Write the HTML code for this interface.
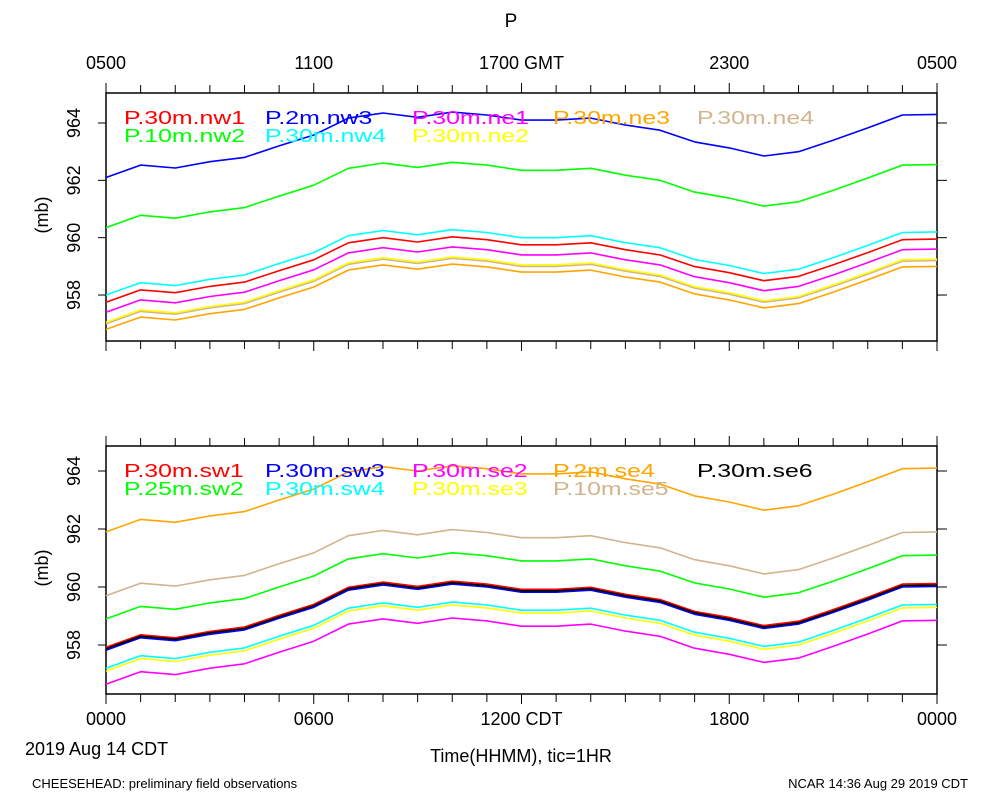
<!DOCTYPE html>
<html><head><meta charset="utf-8"><style>
html,body{margin:0;padding:0;background:#fff;}
svg{display:block;font-family:"Liberation Sans",sans-serif;}
</style></head><body>
<svg id="chart" width="1000" height="800" viewBox="0 0 1000 800" xmlns="http://www.w3.org/2000/svg">
<rect x="0" y="0" width="1000" height="800" fill="#fff"/>
<text x="511" y="27" font-size="19" text-anchor="middle">P</text>
<g id="top-axis-labels" font-size="18" text-anchor="middle"></g>
<g id="panel-top"></g>
<g id="panel-bot"></g>
<g id="bottom-axis-labels" font-size="18" text-anchor="middle"></g>
<text x="25" y="755" font-size="18">2019 Aug 14 CDT</text>
<text x="521" y="762" font-size="18" text-anchor="middle">Time(HHMM), tic=1HR</text>
<text x="32" y="788" font-size="13">CHEESEHEAD: preliminary field observations</text>
<text x="968" y="788" font-size="13" text-anchor="end">NCAR 14:36 Aug 29 2019 CDT</text>
</svg>
<script>
const hours = [0,1,2,3,4,5,6,7,8,9,10,11,12,13,14,15,16,17,18,19,20,21,22,23,24];
const bottomTickLabels = ["0000","0600","1200 CDT","1800","0000"];
const topTickLabels = ["0500","1100","1700 GMT","2300","0500"];
const yTicks = [958,960,962,964];
const topNames = ["P.30m.nw1","P.10m.nw2","P.2m.nw3","P.30m.nw4","P.30m.ne1","P.30m.ne2","P.30m.ne3","P.30m.ne4"];
const nw1 = [957.75,958.18,958.08,958.3,958.45,958.85,959.23,959.82,960.0,959.85,960.03,959.93,959.75,959.75,959.82,959.58,959.4,958.99,958.78,958.5,958.65,959.05,959.48,959.93,959.95];
const nw2 = [960.35,960.78,960.68,960.9,961.05,961.45,961.83,962.42,962.6,962.45,962.63,962.53,962.35,962.35,962.42,962.18,962.0,961.59,961.38,961.1,961.25,961.65,962.08,962.53,962.55];
const nw3 = [962.1,962.53,962.43,962.65,962.8,963.2,963.58,964.17,964.35,964.2,964.38,964.28,964.1,964.1,964.17,963.93,963.75,963.34,963.13,962.85,963.0,963.4,963.83,964.28,964.3];
const nw4 = [958.0,958.43,958.33,958.55,958.7,959.1,959.48,960.07,960.25,960.1,960.28,960.18,960.0,960.0,960.07,959.83,959.65,959.24,959.03,958.75,958.9,959.3,959.73,960.18,960.2];
const ne1 = [957.4,957.83,957.73,957.95,958.1,958.5,958.88,959.47,959.65,959.5,959.68,959.58,959.4,959.4,959.47,959.23,959.05,958.64,958.43,958.15,958.3,958.7,959.13,959.58,959.6];
const ne2 = [957.05,957.48,957.38,957.6,957.75,958.15,958.53,959.12,959.3,959.15,959.33,959.23,959.05,959.05,959.12,958.88,958.7,958.29,958.08,957.8,957.95,958.35,958.78,959.23,959.25];
const ne3 = [956.8,957.23,957.13,957.35,957.5,957.9,958.28,958.87,959.05,958.9,959.08,958.98,958.8,958.8,958.87,958.63,958.45,958.04,957.83,957.55,957.7,958.1,958.53,958.98,959.0];
const ne4 = [957.0,957.43,957.33,957.55,957.7,958.1,958.48,959.07,959.25,959.1,959.28,959.18,959.0,959.0,959.07,958.83,958.65,958.24,958.03,957.75,957.9,958.3,958.73,959.18,959.2];
const botNames = ["P.30m.sw1","P.25m.sw2","P.30m.sw3","P.30m.sw4","P.30m.se2","P.30m.se3","P.2m.se4","P.10m.se5","P.30m.se6"];
const sw1 = [957.92,958.35,958.25,958.47,958.62,959.02,959.4,959.99,960.17,960.02,960.2,960.1,959.92,959.92,959.99,959.75,959.57,959.16,958.95,958.67,958.82,959.22,959.65,960.1,960.12];
const sw2 = [958.9,959.33,959.23,959.45,959.6,960.0,960.38,960.97,961.15,961.0,961.18,961.08,960.9,960.9,960.97,960.73,960.55,960.14,959.93,959.65,959.8,960.2,960.63,961.08,961.1];
const sw3 = [957.82,958.25,958.15,958.37,958.52,958.92,959.3,959.89,960.07,959.92,960.1,960.0,959.82,959.82,959.89,959.65,959.47,959.06,958.85,958.57,958.72,959.12,959.55,960.0,960.02];
const sw4 = [957.2,957.63,957.53,957.75,957.9,958.3,958.68,959.27,959.45,959.3,959.48,959.38,959.2,959.2,959.27,959.03,958.85,958.44,958.23,957.95,958.1,958.5,958.93,959.38,959.4];
const se2 = [956.65,957.08,956.98,957.2,957.35,957.75,958.13,958.72,958.9,958.75,958.93,958.83,958.65,958.65,958.72,958.48,958.3,957.89,957.68,957.4,957.55,957.95,958.38,958.83,958.85];
const se3 = [957.1,957.53,957.43,957.65,957.8,958.2,958.58,959.17,959.35,959.2,959.38,959.28,959.1,959.1,959.17,958.93,958.75,958.34,958.13,957.85,958.0,958.4,958.83,959.28,959.3];
const se4 = [961.9,962.33,962.23,962.45,962.6,963.0,963.38,963.97,964.15,964.0,964.18,964.08,963.9,963.9,963.97,963.73,963.55,963.14,962.93,962.65,962.8,963.2,963.63,964.08,964.1];
const se5 = [959.7,960.13,960.03,960.25,960.4,960.8,961.18,961.77,961.95,961.8,961.98,961.88,961.7,961.7,961.77,961.53,961.35,960.94,960.73,960.45,960.6,961.0,961.43,961.88,961.9];
const se6 = [957.87,958.3,958.2,958.42,958.57,958.97,959.35,959.94,960.12,959.97,960.15,960.05,959.87,959.87,959.94,959.7,959.52,959.11,958.9,958.62,958.77,959.17,959.6,960.05,960.07];

const NS="http://www.w3.org/2000/svg";
function mk(tag, attrs, parent){const e=document.createElementNS(NS,tag);for(const k in attrs)e.setAttribute(k,attrs[k]);parent.appendChild(e);return e;}
const X0=106,X1=937;
function xs(h){return X0+(h/24)*(X1-X0);}

function panel(g, top, bottom, y964, pxPerMb, series, legend){
  const ys=v=>y964+(964-v)*pxPerMb;
  const box=mk('rect',{x:X0,y:top,width:X1-X0,height:bottom-top,fill:'none',stroke:'#000','stroke-width':1.5},g);
  
  
  for(let h=0;h<=24;h++){
    const len=(h%6===0)?10:8;
    const t1=mk('line',{x1:xs(h),x2:xs(h),y1:top-len,y2:top,stroke:'#000','stroke-width':1},g);
    
    
    const t2=mk('line',{x1:xs(h),x2:xs(h),y1:bottom,y2:bottom+len,stroke:'#000','stroke-width':1},g);
    
    
  }
  yTicks.forEach(v=>{
    const y=ys(v);
    const a=mk('line',{x1:X0-8,x2:X0,y1:y,y2:y,stroke:'#000'},g);
    
    
    const b=mk('line',{x1:X1,x2:X1+10,y1:y,y2:y,stroke:'#000'},g);
    
    
    const t=mk('text',{x:80,y:y,'font-size':18,'text-anchor':'middle',transform:`rotate(-90 80 ${y})`},g);
    t.textContent=String(v);
    
    
  });
  const yl=(top+bottom)/2-2;
  const lab=mk('text',{x:48,y:yl,'font-size':18,'text-anchor':'middle',transform:`rotate(-90 48 ${yl})`},g);
  lab.textContent='(mb)';
  
  
  series.forEach(s=>{
    const d=s.vals.map((v,i)=>(i?'L':'M')+xs(hours[i]).toFixed(1)+','+ys(v).toFixed(1)).join(' ');
    const p=mk('path',{d:d,fill:'none',stroke:s.color,'stroke-width':1.6,'stroke-linejoin':'round'},g);
    
    
  });
  legend.forEach(l=>{
    const t=mk('text',{x:l.x,y:l.y,'font-size':18,fill:l.color},g);
    t.textContent=l.name;
    
    
    const w=t.getComputedTextLength();
    t.setAttribute('textLength',(w*1.38).toFixed(1));
    t.setAttribute('lengthAdjust','spacingAndGlyphs');
  });
}
const cx=[124,265,412,553,697];
panel(document.getElementById('panel-top'),93,341,123,28.67,[
 {name:'nw3',vals:nw3,color:'#0000ff'},{name:'nw2',vals:nw2,color:'#00ff00'},
 {name:'nw4',vals:nw4,color:'#00ffff'},{name:'nw1',vals:nw1,color:'#ff0000'},
 {name:'ne1',vals:ne1,color:'#ff00ff'},{name:'ne4',vals:ne4,color:'#d2b48c'},
 {name:'ne2',vals:ne2,color:'#ffff00'},{name:'ne3',vals:ne3,color:'#ffa500'}
],[
 {name:topNames[0],x:cx[0],y:124,color:'#ff0000'},{name:topNames[1],x:cx[0],y:142,color:'#00ff00'},
 {name:topNames[2],x:cx[1],y:124,color:'#0000ff'},{name:topNames[3],x:cx[1],y:142,color:'#00ffff'},
 {name:topNames[4],x:cx[2],y:124,color:'#ff00ff'},{name:topNames[5],x:cx[2],y:142,color:'#ffff00'},
 {name:topNames[6],x:cx[3],y:124,color:'#ffa500'},{name:topNames[7],x:cx[4],y:124,color:'#d2b48c'}
]);
panel(document.getElementById('panel-bot'),446,694,471,29,[
 {name:'se4',vals:se4,color:'#ffa500'},{name:'se5',vals:se5,color:'#d2b48c'},
 {name:'sw2',vals:sw2,color:'#00ff00'},{name:'se2',vals:se2,color:'#ff00ff'},
 {name:'se3',vals:se3,color:'#ffff00'},{name:'sw4',vals:sw4,color:'#00ffff'},
 {name:'sw3',vals:sw3,color:'#0000ff'},{name:'sw1',vals:sw1,color:'#ff0000'},
 {name:'se6',vals:se6,color:'#000000'}
],[
 {name:botNames[0],x:cx[0],y:477,color:'#ff0000'},{name:botNames[1],x:cx[0],y:495,color:'#00ff00'},
 {name:botNames[2],x:cx[1],y:477,color:'#0000ff'},{name:botNames[3],x:cx[1],y:495,color:'#00ffff'},
 {name:botNames[4],x:cx[2],y:477,color:'#ff00ff'},{name:botNames[5],x:cx[2],y:495,color:'#ffff00'},
 {name:botNames[6],x:cx[3],y:477,color:'#ffa500'},{name:botNames[7],x:cx[3],y:495,color:'#d2b48c'},
 {name:botNames[8],x:cx[4],y:477,color:'#000000'}
]);
const tg=document.getElementById('top-axis-labels'), bg=document.getElementById('bottom-axis-labels');
topTickLabels.forEach((s,i)=>{
  const t=mk('text',{x:xs(i*6),y:69},tg);t.textContent=s;
  
  
});
bottomTickLabels.forEach((s,i)=>{
  const t=mk('text',{x:xs(i*6),y:725},bg);t.textContent=s;
  
  
});
</script>
</body></html>
